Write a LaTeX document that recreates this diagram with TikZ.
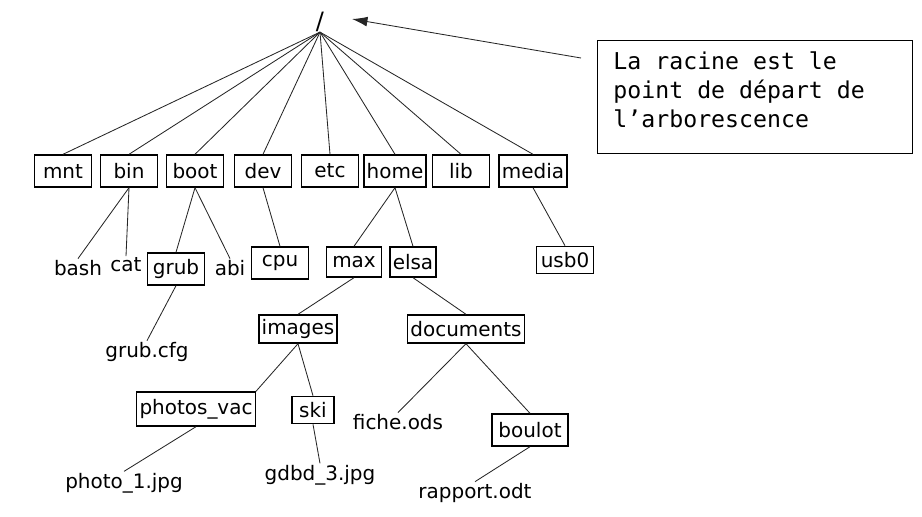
\documentclass[tikz,border=0pt]{standalone}
\usepackage{fontspec}
\setmainfont{DejaVu Sans}
\newfontfamily\monofont{DejaVu Sans Mono}
\usetikzlibrary{shapes,arrows.meta}
\tikzstyle{dossier} = [rectangle, draw, line width=1pt, inner xsep=2pt, inner ysep=0pt, minimum height=0.75cm]
\tikzstyle{grand} = [dossier, minimum width=1.42cm]
\tikzstyle{fichier} = [inner sep=1pt]
\tikzstyle{line} = [draw, line width=0.6pt, black!85]
\tikzstyle{note} = [rectangle, draw, line width=0.7pt, inner xsep=0.4cm, inner ysep=0.28cm,
    font=\monofont\fontsize{16.5}{20.6}\selectfont]

\begin{document}
\begin{tikzpicture}[node distance=2cm, font=\fontsize{14.2}{17}\selectfont]
    \useasboundingbox (0,0) rectangle (23.05,-12.925);
    % Place nodes
    \node [inner sep=0pt, font=\fontsize{17}{20}\selectfont] (racine) at (8.0,-0.55) {/};
    \node [grand, minimum height=0.8cm] (mnt) at (1.575,-4.275) {mnt};
    \node [grand, minimum height=0.8cm, right of=mnt, node distance=1.65cm] (bin) {bin};
    \node [grand, minimum height=0.8cm, right of=bin, node distance=1.65cm] (boot) {boot};
    \node [grand, minimum height=0.8cm, right of=boot, node distance=1.7cm] (dev) {dev};
    \node [grand, minimum height=0.8cm, right of=dev, node distance=1.675cm] (etc) {etc};
    \node [grand, minimum height=0.8cm, right of=etc, node distance=1.625cm] (home) {home};
    \node [grand, minimum height=0.8cm, right of=home, node distance=1.65cm] (lib) {lib};
    \node [grand, minimum height=0.8cm, right of=lib, node distance=1.8cm] (media) {media};

    \node [fichier, below of=bin, node distance=2.425cm, xshift=-1.275cm] (bash) {bash};
    \node [fichier, below of=bin, node distance=2.35cm, xshift=-0.075cm] (cat) {cat};
    \node [grand, minimum height=0.8cm, below of=boot, node distance=2.45cm, xshift=-0.475cm] (grub) {grub};
    \node [fichier, below of=boot, node distance=2.425cm, xshift=0.875cm] (abi) {abi};
    \node [grand, minimum height=0.8cm, below of=dev, node distance=2.3cm, xshift=0.425cm] (cpu) {cpu};
    \node [dossier, minimum width=1.375cm, below of=home, node distance=2.275cm, xshift=-1.025cm] (max) {max};
    \node [dossier, below of=home, node distance=2.275cm, xshift=0.45cm] (elsa) {elsa};
    \node [grand, minimum height=0.68cm, below of=media, node distance=2.225cm, xshift=0.8cm] (usb) {usb0};

    \node [fichier, below of=grub, node distance=2.075cm, xshift=-0.725cm] (grubcfg) {grub.cfg};
    \node [dossier, minimum height=0.7cm, below of=max, node distance=1.675cm, xshift=-1.4cm] (images) {images};
    \node [dossier, minimum height=0.7cm, below of=elsa, node distance=1.675cm, xshift=1.325cm] (documents) {documents};

    \node [dossier, minimum height=0.85cm, below of=images, node distance=2.0cm, xshift=-2.55cm] (photos) {photos\_vac};
    \node [dossier, minimum height=0.68cm, minimum width=1.05cm, below of=images, node distance=2.025cm, xshift=0.375cm] (ski) {ski};
    \node [fichier, below of=documents, node distance=2.325cm, xshift=-1.7cm] (fiche) {fiche.ods};
    \node [dossier, minimum height=0.8cm, minimum width=1.9cm, below of=documents, node distance=2.525cm, xshift=1.6cm] (boulot) {boulot};

    \node [fichier, below of=photos, node distance=1.85cm, xshift=-1.8cm] (photo) {photo\_1.jpg};
    \node [fichier, below of=ski, node distance=1.625cm, xshift=0.175cm] (gdbd) {gdbd\_3.jpg};
    \node [fichier, below of=boulot, node distance=1.575cm, xshift=-1.375cm] (rapport) {rapport.odt};

    \node [note, anchor=north west] (remarque) at (14.925,-1.0)
        {\parbox[c][2.265cm][t]{7.075cm}{La racine est le\\point de départ de\\l’arborescence}};
    \coordinate (depart) at (14.525,-1.45);
    \coordinate (pointe) at (8.8,-0.475);

    % Draw edges
    \path [line] (racine.south) -- (mnt.north);
    \path [line] (racine.south) -- (bin.north);
    \path [line] (racine.south) -- (boot.north);
    \path [line] (racine.south) -- (dev.north);
    \path [line] (racine.south) -- (etc.north);
    \path [line] (racine.south) -- (home.north);
    \path [line] (racine.south) -- (lib.north);
    \path [line] (racine.south) -- (media.north);
    \path [line] (bin.south) -- (bash.north);
    \path [line] (bin.south) -- (cat.north);
    \path [line] (boot.south) -- (grub.north);
    \path [line] (boot.south) -- (abi.north);
    \path [line] (dev.south) -- (cpu.north);
    \path [line] (home.south) -- (max.north);
    \path [line] (home.south) -- (elsa.north);
    \path [line] (media.south) -- (usb.north);
    \path [line] (grub.south) -- (grubcfg.north);
    \path [line] (max.south) -- (images.north);
    \path [line] (elsa.south) -- (documents.north);
    \path [line] (images.south) -- (photos.north east);
    \path [line] (images.south) -- (ski.north);
    \path [line] (documents.south) -- (fiche.north);
    \path [line] (documents.south) -- (boulot.north);
    \path [line] (photos.south) -- (photo.north);
    \path [line] (ski.south) -- (gdbd.north);
    \path [line] (boulot.south) -- (rapport.north);
    \path [line, -{Latex[length=11pt,width=7pt]}] (depart) -- (pointe);
\end{tikzpicture}
\end{document}
